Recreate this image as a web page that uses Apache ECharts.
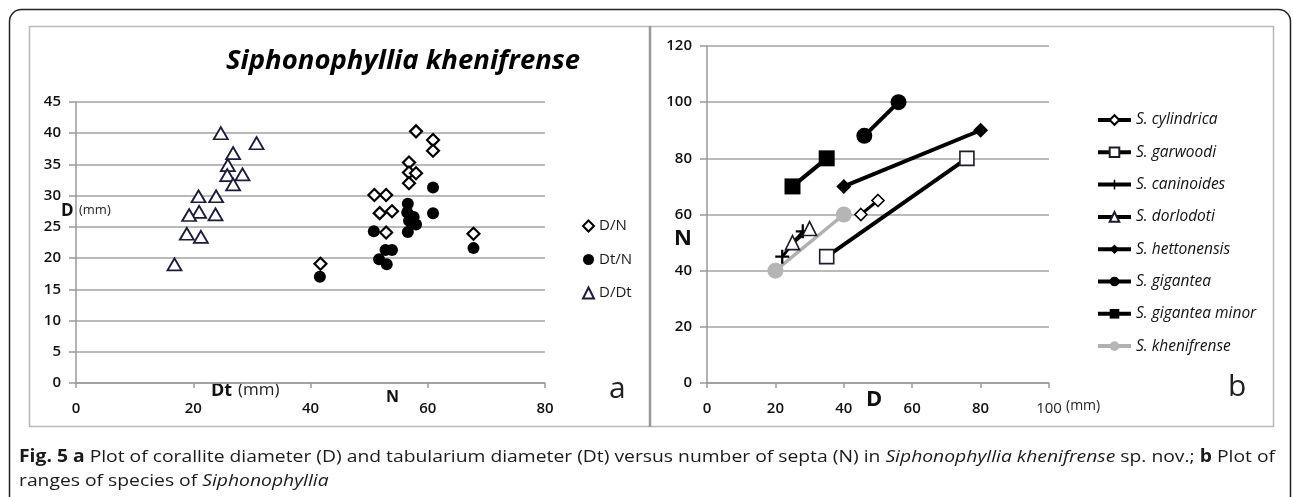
<!DOCTYPE html>
<html>
<head>
<meta charset="utf-8">
<script src="https://cdn.jsdelivr.net/npm/echarts@6/dist/echarts.min.js"></script>
<style>
  html, body { margin: 0; padding: 0; background: #fff; overflow: hidden; }
  #chart { position: absolute; left: 0; top: 0; width: 1293px; height: 497px; }
  .cap { position: absolute; left: 19px; white-space: nowrap; font-family: "Open Sans", sans-serif;
         font-size: 17px; color: #1a1a1a; transform-origin: 0 0; }
</style>
</head>
<body>
<div id="chart"></div>
<div class="cap" id="cap1" style="top:444px"><b>Fig. 5 a</b> Plot of corallite diameter (D) and tabularium diameter (Dt) versus number of septa (N) in <i>Siphonophyllia khenifrense</i> sp. nov.; <b>b</b> Plot of</div>
<div class="cap" id="cap2" style="top:468px">ranges of species of <i>Siphonophyllia</i></div>
<script>
// panel a : D/N, Dt/N, D/Dt  ([x, y])
const dnPoints = [[41.7, 19.1], [50.9, 30.1], [52.9, 30.1], [51.8, 27.2], [53.9, 27.5], [52.9, 24.1],
  [56.8, 35.3], [56.8, 33.7], [58.0, 33.6], [56.8, 32.0], [58.0, 40.3], [60.9, 38.9], [60.9, 37.2], [67.8, 23.9]];
const dtnPoints = [[41.6, 17.0], [50.8, 24.3], [51.7, 19.8], [53.0, 19.0], [52.8, 21.3], [53.9, 21.3],
  [56.6, 28.7], [56.5, 27.3], [57.6, 26.6], [56.8, 26.0], [58.0, 25.4], [56.6, 24.2], [60.9, 31.3], [60.9, 27.2], [67.8, 21.6]];
const dDtPoints = [[24.7, 40.0], [30.8, 38.4], [26.8, 36.8], [25.9, 34.9], [25.8, 33.3], [28.4, 33.4], [26.8, 31.8],
  [20.9, 29.9], [23.9, 29.9], [21.0, 27.4], [19.3, 26.9], [23.8, 27.0], [18.9, 23.9], [21.3, 23.4], [16.8, 19.0]];
const legendA = ['D/N', 'Dt/N', 'D/Dt'];

// panel b : species ranges  ([D, N])
const species = ['S. cylindrica', 'S. garwoodi', 'S. caninoides', 'S. dorlodoti',
  'S. hettonensis', 'S. gigantea', 'S. gigantea minor', 'S. khenifrense'];
const cylindrica = [[45, 60], [50, 65]];
const garwoodi = [[35, 45], [76, 80]];
const caninoides = [[22, 45], [28, 54]];
const dorlodoti = [[25, 50], [30, 55]];
const hettonensis = [[40, 70], [80, 90]];
const gigantea = [[46, 88], [56, 100]];
const giganteaMinor = [[25, 70], [35, 80]];
const khenifrense = [[20, 40], [40, 60]];

const FONT = 'Open Sans';
const plusPath = 'path://M4.2,0H5.8V4.2H10V5.8H5.8V10H4.2V5.8H0V4.2H4.2Z';

function axisBase(min, max, interval, isX) {
  return {
    type: 'value', min: min, max: max, interval: interval,
    axisLine: { show: true, onZero: false, lineStyle: { color: '#9a9a9a', width: 1.5 } },
    axisTick: { show: true, length: isX ? 5 : 7, lineStyle: { color: '#9a9a9a', width: 1.5 } },
    axisLabel: { margin: isX ? 18 : 15, fontFamily: FONT, fontSize: 15, fontWeight: 600, color: '#111' },
    splitLine: { show: !isX, lineStyle: { color: '#a3a3a3', width: 1.5 } }
  };
}

function rangeSeries(name, data, symbol, size, fill, border, lineW, lineColor) {
  return {
    type: 'line', name: name, xAxisIndex: 1, yAxisIndex: 1, data: data,
    symbol: symbol, symbolSize: size, showAllSymbol: true, animation: false,
    lineStyle: { color: lineColor || '#000', width: lineW },
    itemStyle: { color: fill, borderColor: border, borderWidth: fill === '#fff' ? 1.6 : 0, opacity: 1 }
  };
}

const chart = echarts.init(document.getElementById('chart'));
const xA = axisBase(0, 80, 20, true);
const yA = axisBase(0, 45, 5, false);
const xB = axisBase(0, 100, 20, true);
xB.axisLabel.formatter = v => (v === 100 ? '{n|100}' : v);
xB.axisLabel.rich = { n: { fontFamily: FONT, fontSize: 15, fontWeight: 400, color: '#222' } };
const yB = axisBase(0, 120, 20, false);
xA.gridIndex = 0; yA.gridIndex = 0; xB.gridIndex = 1; yB.gridIndex = 1;

const option = {
  animation: false,
  grid: [
    { left: 76, top: 102, width: 469, height: 281 },
    { left: 707, top: 46, width: 342, height: 337 }
  ],
  xAxis: [xA, xB],
  yAxis: [yA, yB],
  legend: [
    {
      data: legendA, orient: 'vertical', left: 577, top: 213, itemGap: 17.5,
      itemWidth: 11, itemHeight: 11,
      textStyle: { fontFamily: FONT, fontSize: 15, color: '#1a1a1a', lineHeight: 16 }
    },
    {
      data: species, orient: 'vertical', left: 1091, top: 107, itemGap: 16.3,
      itemWidth: 33, itemHeight: 12,
      lineStyle: { width: 4 },
      textStyle: { fontFamily: FONT, fontSize: 15.5, fontStyle: 'italic', color: '#111', lineHeight: 16 }
    }
  ],
  series: [
    { type: 'scatter', name: 'D/N', data: dnPoints, symbol: 'diamond', symbolSize: 12,
      itemStyle: { color: '#fff', borderColor: '#000', borderWidth: 2.2, opacity: 1 } },
    { type: 'scatter', name: 'Dt/N', data: dtnPoints, symbol: 'circle', symbolSize: 12,
      itemStyle: { color: '#000', opacity: 1 } },
    { type: 'scatter', name: 'D/Dt', data: dDtPoints, symbol: 'triangle', symbolSize: [14, 12],
      itemStyle: { color: '#fff', borderColor: '#1c1c38', borderWidth: 1.8, opacity: 1 } },
    rangeSeries('S. cylindrica', cylindrica, 'diamond', 12, '#fff', '#000', 3),
    rangeSeries('S. garwoodi', garwoodi, 'rect', 14, '#fff', '#1c1c2c', 4),
    rangeSeries('S. caninoides', caninoides, plusPath, 14, '#000', '#000', 3),
    rangeSeries('S. dorlodoti', dorlodoti, 'triangle', 14, '#fff', '#1c1c2c', 4),
    rangeSeries('S. hettonensis', hettonensis, 'diamond', 15, '#000', '#000', 4),
    rangeSeries('S. gigantea', gigantea, 'circle', 16, '#000', '#000', 4),
    rangeSeries('S. gigantea minor', giganteaMinor, 'rect', 16, '#000', '#000', 4),
    rangeSeries('S. khenifrense', khenifrense, 'circle', 16, '#b5b5b5', '#b5b5b5', 3.5, '#b0b0b0')
  ],
  graphic: [
    // frames
    { type: 'rect', silent: true, z: -10, shape: { x: 9.5, y: 9.5, width: 1281, height: 540, r: 12 },
      style: { fill: 'none', stroke: '#222', lineWidth: 1.5 } },
    { type: 'rect', silent: true, z: -9, shape: { x: 29.5, y: 26.5, width: 1244, height: 400 },
      style: { fill: 'none', stroke: '#b8b8b8', lineWidth: 1.5 } },
    { type: 'line', silent: true, z: -8, shape: { x1: 650, y1: 26, x2: 650, y2: 427 },
      style: { stroke: '#999', lineWidth: 2.5 } },
    // panel a texts
    { type: 'text', left: 226, top: 48, style: { text: 'Siphonophyllia khenifrense',
      font: 'italic bold 27.5px "Open Sans"', fill: '#000' } },
    { type: 'text', left: 61, top: 203, style: { text: 'D', font: 'bold 17px "Open Sans"', fill: '#111' } },
    { type: 'text', left: 79, top: 204, style: { text: '(mm)', font: '13px "Open Sans"', fill: '#222' } },
    { type: 'text', left: 211, top: 382, style: { text: 'Dt', font: 'bold 18px "Open Sans"', fill: '#111' } },
    { type: 'text', left: 238, top: 382, style: { text: '(mm)', font: '17px "Open Sans"', fill: '#222' } },
    { type: 'text', left: 386, top: 389, style: { text: 'N', font: 'bold 16px "Open Sans"', fill: '#111' } },
    { type: 'text', left: 609, top: 374, style: { text: 'a', font: '30px "Open Sans"', fill: '#222' } },
    // panel b texts
    { type: 'text', left: 674, top: 228, style: { text: 'N', font: 'bold 22px "Open Sans"', fill: '#111' } },
    { type: 'text', left: 866, top: 389, style: { text: 'D', font: 'bold 22px "Open Sans"', fill: '#111' } },
    { type: 'text', left: 1066, top: 399, style: { text: '(mm)', font: '14px "Open Sans"', fill: '#222' } },
    { type: 'text', left: 1228, top: 372, style: { text: 'b', font: '30px "Open Sans"', fill: '#222' } }
  ]
};
chart.setOption(option);

// squeeze the caption to the condensed width of the original
const cap1 = document.getElementById('cap1');
const cap2 = document.getElementById('cap2');
const k = 1256 / cap1.getBoundingClientRect().width;
cap1.style.transform = 'scaleX(' + k + ')';
cap2.style.transform = 'scaleX(' + k + ')';
</script>
</body>
</html>
